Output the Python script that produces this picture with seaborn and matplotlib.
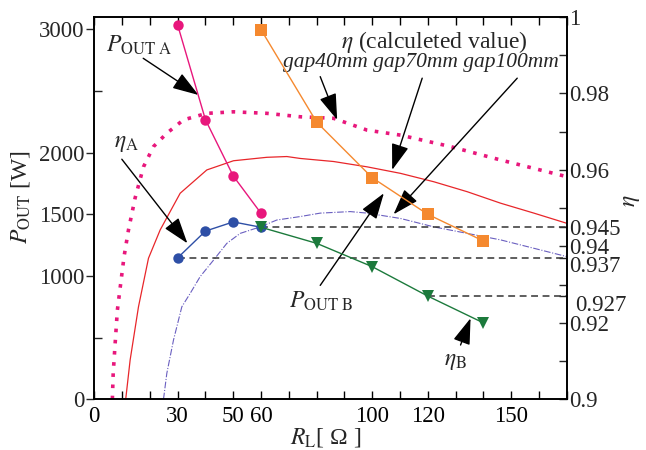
import matplotlib
matplotlib.use("Agg")
import matplotlib.pyplot as plt
import matplotlib.transforms as mtransforms
import seaborn as sns
import numpy as np

# ---------------- data ----------------
R_A = [30, 40, 50, 60]
P_OUT_A = [3035, 2267, 1811, 1508]
ETA_A = [0.937, 0.944, 0.9464, 0.945]

R_B = [60, 80, 100, 120, 140]
P_OUT_B = [2997, 2248, 1797, 1500, 1284]
ETA_B = [0.945, 0.9408, 0.9347, 0.927, 0.920]

R_GAP40 = [6.5, 6.8, 7.5, 8.3, 9.5, 10.7, 12.3, 14.7, 17.7, 21.3, 26.1, 32.1, 40.5,
           50.1, 62.1, 74.1, 86.1, 98.2, 110.2, 128.2, 146.2, 170.2]
ETA_GAP40 = [0.900, 0.9068, 0.9146, 0.9233, 0.9303, 0.9373, 0.9443, 0.9527, 0.9608,
             0.9661, 0.9696, 0.9731, 0.9748, 0.9752, 0.9748, 0.9739, 0.9735, 0.9704,
             0.9691, 0.9661, 0.9626, 0.9582]

R_GAP70 = [11.3, 12.9, 15.9, 19.5, 23.7, 30.9, 40.5, 50.1, 62.1, 69.3, 74.1, 86.1,
           98.2, 110.2, 122.2, 134.2, 146.2, 158.2, 170.2]
ETA_GAP70 = [0.900, 0.9103, 0.9242, 0.9369, 0.9443, 0.9539, 0.9600, 0.9624, 0.9633,
             0.9635, 0.9630, 0.9622, 0.9608, 0.9591, 0.9569, 0.9543, 0.9513, 0.9487,
             0.9460]

R_GAP100 = [24.9, 26.1, 28.5, 31.5, 34.5, 38.1, 42.9, 47.7, 52.5, 59.7, 65.7, 74.1,
            81.3, 92.1, 98.2, 110.2, 122.2, 134.2, 146.2, 158.2, 170.2]
ETA_GAP100 = [0.900, 0.9068, 0.9155, 0.9242, 0.9277, 0.9321, 0.9364, 0.9408, 0.9434,
              0.9451, 0.9469, 0.9478, 0.9487, 0.9491, 0.9487, 0.9473, 0.9451, 0.9434,
              0.9417, 0.9395, 0.9373]

X_TICKS = list(range(0, 171, 10))
X_LABELS = {0: "0", 30: "30", 50: "50", 60: "60", 100: "100", 120: "120", 150: "150"}
P_TICKS = [0, 1000, 1500, 2000, 3000]
P_MINOR = [500, 2500]
ETA_TICKS = [0.9, 0.91, 0.92, 0.927, 0.93, 0.937, 0.94, 0.945, 0.95, 0.96, 0.97,
             0.98, 0.99, 1.0]
ETA_LABELS = {0.9: "0.9", 0.92: "0.92", 0.927: "0.927", 0.937: "0.937", 0.94: "0.94",
              0.945: "0.945", 0.96: "0.96", 0.98: "0.98", 1.0: "1"}
REF_LINES = [(60, 0.945), (30, 0.937), (120, 0.927)]

# ---------------- style ----------------
sns.set_style("ticks")
plt.rcParams["font.family"] = ["Liberation Serif", "DejaVu Serif"]
plt.rcParams["mathtext.fontset"] = "stix"
FS_TICK = 16.5
FS = 17

PINK = "#e8177c"
ORANGE = "#f5892f"
BLUE = "#2e4fa6"
GREEN = "#1c7a3c"
RED = "#e8262a"
PURPLE = "#6a5fc0"

fig = plt.figure(figsize=(6.46, 4.5), dpi=100)
ax = fig.add_axes([94.3 / 646, 1 - 399.3 / 450, (566.7 - 94.3) / 646, (399.3 - 17) / 450])
ax2 = ax.twinx()

# calculated efficiency curves
sns.lineplot(x=R_GAP40, y=ETA_GAP40, ax=ax2, color=PINK, lw=2.6,
             linestyle=(0, (1.0, 2.1)), legend=False, sort=False)
sns.lineplot(x=R_GAP70, y=ETA_GAP70, ax=ax2, color=RED, lw=0.9, legend=False, sort=False)
sns.lineplot(x=R_GAP100, y=ETA_GAP100, ax=ax2, color=PURPLE, lw=0.8,
             linestyle=(0, (6, 1.5, 1, 1.5)), legend=False, sort=False)

# reference dashed lines
for x0, y0 in REF_LINES:
    ax2.hlines(y0, x0, 170, colors="#333333", lw=1.1, linestyles=(0, (4.5, 3)), zorder=2)

# measured output power
sns.lineplot(x=R_A, y=P_OUT_A, ax=ax, color=PINK, lw=1, marker="o", markersize=7.5,
             markeredgewidth=0, legend=False, sort=False)
sns.lineplot(x=R_B, y=P_OUT_B, ax=ax, color=ORANGE, lw=1, marker="s", markersize=8,
             markeredgewidth=0, legend=False, sort=False)
ax.set_zorder(ax2.get_zorder() + 1)
ax.patch.set_visible(False)

# measured efficiency
sns.lineplot(x=R_A, y=ETA_A, ax=ax2, color=BLUE, lw=1, marker="o", markersize=7.5,
             markeredgewidth=0, legend=False, sort=False, zorder=4)
sns.lineplot(x=R_B, y=ETA_B, ax=ax2, color=GREEN, lw=1, marker="v", markersize=8.5,
             markeredgewidth=0, legend=False, sort=False, zorder=4)

# axes limits and ticks
ax.set_xlim(0, 170)
ax.set_ylim(0, 3100)
ax2.set_ylim(0.9, 1.0)

ax.set_xticks(X_TICKS)
ax.set_xticklabels([X_LABELS.get(t, "") for t in X_TICKS], fontsize=FS_TICK)
ax.set_yticks(P_TICKS)
ax.set_yticklabels([str(t) for t in P_TICKS], fontsize=FS_TICK)
ax.set_yticks(P_MINOR, minor=True)
ax2.set_yticks(ETA_TICKS)
ax2.set_yticklabels([ETA_LABELS.get(t, "") for t in ETA_TICKS], fontsize=FS_TICK)

ax.tick_params(axis="x", which="major", direction="in", length=6, width=1,
               top=True, pad=5, colors="black")
ax.tick_params(axis="y", which="major", direction="out", length=6, width=1, pad=1)
ax.tick_params(axis="y", which="minor", direction="in", length=6, width=1, left=True)
ax2.tick_params(axis="y", which="major", direction="in", length=6, width=1, pad=2)

# nudge crowded right-hand labels like the reference
shifts = {0.937: (0, -4.5), 0.927: (4, -5)}
for tick, loc in zip(ax2.yaxis.get_major_ticks(), ETA_TICKS):
    if loc in shifts:
        dx, dy = shifts[loc]
        off = mtransforms.ScaledTranslation(dx / 72, dy / 72, fig.dpi_scale_trans)
        tick.label2.set_transform(tick.label2.get_transform() + off)

for a in (ax, ax2):
    for s in a.spines.values():
        s.set_linewidth(1.2)
        s.set_color("black")
        s.set_visible(True)

ax.set_xlabel(r"$R_{\mathrm{L}}$[ Ω ]", fontsize=FS)
ax.xaxis.label.set_va("center")
ax.xaxis.set_label_coords(0.49, -0.100)
ax.set_ylabel(r"$P_{\mathrm{OUT}}$ [W]", fontsize=FS)
ax.yaxis.label.set_va("center")
ax.yaxis.set_label_coords(-0.157, 0.53)
ax2.set_ylabel(r"$\eta$", fontsize=FS, rotation=90)
ax2.yaxis.label.set_va("center")
ax2.yaxis.set_label_coords(1.138, 0.52)

# annotations
arrow = dict(arrowstyle="-|>,head_length=0.9,head_width=0.3", color="black", lw=1,
             shrinkA=0, shrinkB=0, mutation_scale=18)
ax2.text(16.1, 0.9927, r"$P_{\mathrm{OUT\ A}}$", fontsize=FS, ha="center", va="center")
ax2.annotate("", xy=(37.5, 0.9796), xytext=(17.6, 0.9892), arrowprops=arrow)
ax2.text(11.5, 0.9670, r"$\eta_{\mathrm{A}}$", fontsize=FS, ha="center", va="center")
ax2.annotate("", xy=(33.5, 0.9408), xytext=(9.9, 0.9628), arrowprops=arrow)
ax2.text(122.3, 0.9935, r"$\eta$ (calculeted value)", fontsize=FS, ha="center", va="center")
ax2.text(117.6, 0.9880, "gap40mm gap70mm gap100mm", fontsize=15.5, style="italic",
         ha="center", va="center")
ax2.annotate("", xy=(87.4, 0.9731), xytext=(81.3, 0.9844), arrowprops=arrow)
ax2.annotate("", xy=(107.2, 0.9600), xytext=(118.0, 0.9840), arrowprops=arrow)
ax2.annotate("", xy=(107.7, 0.9484), xytext=(152.2, 0.9840), arrowprops=arrow)
ax2.text(81.7, 0.9255, r"$P_{\mathrm{OUT\ B}}$", fontsize=FS, ha="center", va="center")
ax2.annotate("", xy=(104.2, 0.9539), xytext=(81.3, 0.9298), arrowprops=arrow)
ax2.text(130.0, 0.9098, r"$\eta_{\mathrm{B}}$", fontsize=FS, ha="center", va="center")
ax2.annotate("", xy=(135.4, 0.9212), xytext=(131.8, 0.9142), arrowprops=arrow)

fig.savefig("out.png", dpi=100)
